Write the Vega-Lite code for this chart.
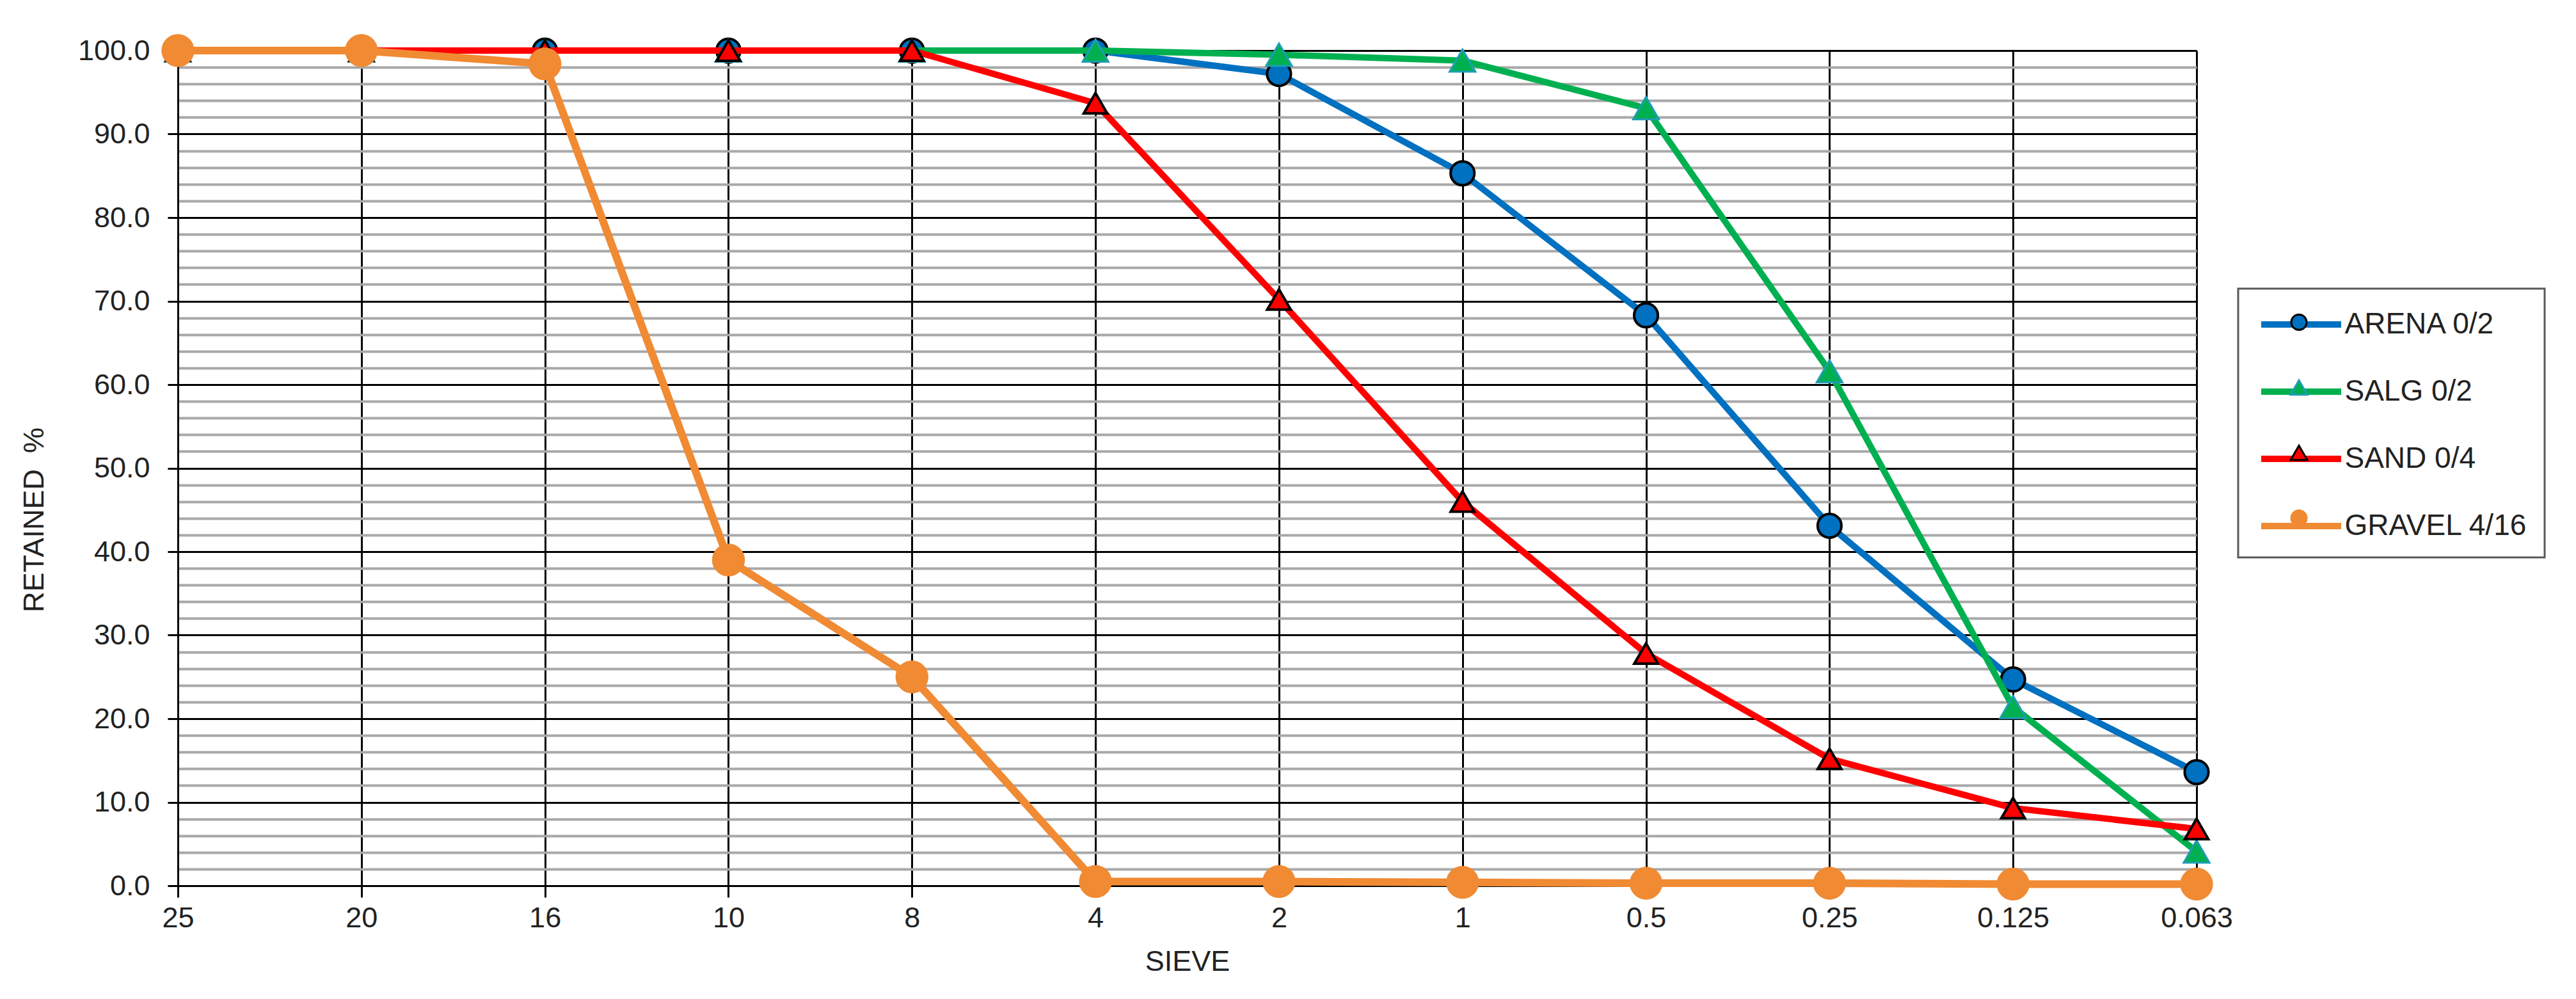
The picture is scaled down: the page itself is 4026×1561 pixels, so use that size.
{
  "$schema": "https://vega.github.io/schema/vega-lite/v6.json",
  "width": 3155,
  "height": 1305,
  "autosize": "none",
  "padding": {"left": 278, "top": 79, "right": 593, "bottom": 177},
  "background": "white",
  "config": {
    "view": {"stroke": null},
    "font": "Liberation Sans, Arial, sans-serif",
    "legend": {"strokeWidth": 3, "labelFont": "Liberation Sans, Arial, sans-serif", "labelLimit": 800}
  },
  "data": {
    "values": [
      {"series": "ARENA 0/2", "sieve": "25", "retained": 100},
      {"series": "ARENA 0/2", "sieve": "20", "retained": 100},
      {"series": "ARENA 0/2", "sieve": "16", "retained": 100},
      {"series": "ARENA 0/2", "sieve": "10", "retained": 100},
      {"series": "ARENA 0/2", "sieve": "8", "retained": 100},
      {"series": "ARENA 0/2", "sieve": "4", "retained": 100},
      {"series": "ARENA 0/2", "sieve": "2", "retained": 97.2},
      {"series": "ARENA 0/2", "sieve": "1", "retained": 85.3},
      {"series": "ARENA 0/2", "sieve": "0.5", "retained": 68.3},
      {"series": "ARENA 0/2", "sieve": "0.25", "retained": 43.1},
      {"series": "ARENA 0/2", "sieve": "0.125", "retained": 24.7},
      {"series": "ARENA 0/2", "sieve": "0.063", "retained": 13.6},
      {"series": "SALG 0/2", "sieve": "25", "retained": 100},
      {"series": "SALG 0/2", "sieve": "20", "retained": 100},
      {"series": "SALG 0/2", "sieve": "16", "retained": 100},
      {"series": "SALG 0/2", "sieve": "10", "retained": 100},
      {"series": "SALG 0/2", "sieve": "8", "retained": 100},
      {"series": "SALG 0/2", "sieve": "4", "retained": 100},
      {"series": "SALG 0/2", "sieve": "2", "retained": 99.5},
      {"series": "SALG 0/2", "sieve": "1", "retained": 98.8},
      {"series": "SALG 0/2", "sieve": "0.5", "retained": 93.1},
      {"series": "SALG 0/2", "sieve": "0.25", "retained": 61.6},
      {"series": "SALG 0/2", "sieve": "0.125", "retained": 21.4},
      {"series": "SALG 0/2", "sieve": "0.063", "retained": 4.1},
      {"series": "SAND 0/4", "sieve": "25", "retained": 100},
      {"series": "SAND 0/4", "sieve": "20", "retained": 100},
      {"series": "SAND 0/4", "sieve": "16", "retained": 100},
      {"series": "SAND 0/4", "sieve": "10", "retained": 100},
      {"series": "SAND 0/4", "sieve": "8", "retained": 100},
      {"series": "SAND 0/4", "sieve": "4", "retained": 93.7},
      {"series": "SAND 0/4", "sieve": "2", "retained": 70.2},
      {"series": "SAND 0/4", "sieve": "1", "retained": 46.0},
      {"series": "SAND 0/4", "sieve": "0.5", "retained": 27.8},
      {"series": "SAND 0/4", "sieve": "0.25", "retained": 15.2},
      {"series": "SAND 0/4", "sieve": "0.125", "retained": 9.3},
      {"series": "SAND 0/4", "sieve": "0.063", "retained": 6.8},
      {"series": "GRAVEL 4/16", "sieve": "25", "retained": 100},
      {"series": "GRAVEL 4/16", "sieve": "20", "retained": 100},
      {"series": "GRAVEL 4/16", "sieve": "16", "retained": 98.4},
      {"series": "GRAVEL 4/16", "sieve": "10", "retained": 39.0},
      {"series": "GRAVEL 4/16", "sieve": "8", "retained": 25.0},
      {"series": "GRAVEL 4/16", "sieve": "4", "retained": 0.5},
      {"series": "GRAVEL 4/16", "sieve": "2", "retained": 0.5},
      {"series": "GRAVEL 4/16", "sieve": "1", "retained": 0.4},
      {"series": "GRAVEL 4/16", "sieve": "0.5", "retained": 0.3},
      {"series": "GRAVEL 4/16", "sieve": "0.25", "retained": 0.3},
      {"series": "GRAVEL 4/16", "sieve": "0.125", "retained": 0.2},
      {"series": "GRAVEL 4/16", "sieve": "0.063", "retained": 0.2}
    ]
  },
  "encoding": {
    "x": {
      "field": "sieve", "type": "nominal", "sort": null, "title": "SIEVE",
      "scale": {"type": "point", "padding": 0, "domain": ["25", "20", "16", "10", "8", "4", "2", "1", "0.5", "0.25", "0.125", "0.063"]},
      "axis": {
        "grid": true, "gridColor": "black", "gridWidth": 3,
        "domainColor": "black", "domainWidth": 3,
        "tickColor": "black", "tickWidth": 3, "tickSize": 18,
        "labelAngle": 0, "labelFontSize": 45, "labelColor": "#222222", "labelPadding": 10, "labelOverlap": false,
        "titleFontSize": 45, "titleFontWeight": "normal", "titleColor": "#222222",
        "titleY": 132, "titleBaseline": "alphabetic"
      }
    },
    "y": {
      "field": "retained", "type": "quantitative", "title": "RETAINED\u00a0\u00a0%",
      "scale": {"domain": [0, 100], "nice": false},
      "axis": {
        "values": [0, 2, 4, 6, 8, 10, 12, 14, 16, 18, 20, 22, 24, 26, 28, 30, 32, 34, 36, 38, 40, 42, 44, 46, 48, 50, 52, 54, 56, 58, 60, 62, 64, 66, 68, 70, 72, 74, 76, 78, 80, 82, 84, 86, 88, 90, 92, 94, 96, 98, 100],
        "grid": true,
        "gridColor": {"condition": {"test": "datum.value % 10 === 0", "value": "black"}, "value": "#A8A8A8"},
        "gridWidth": {"condition": {"test": "datum.value % 10 === 0", "value": 3}, "value": 4},
        "tickColor": {"condition": {"test": "datum.value % 10 === 0", "value": "black"}, "value": "transparent"},
        "tickWidth": 3, "tickSize": 16,
        "domainColor": "black", "domainWidth": 3,
        "labelExpr": "datum.value % 10 === 0 ? format(datum.value, '.1f') : ''",
        "labelFontSize": 45, "labelColor": "#222222", "labelPadding": 28, "labelOverlap": false, "labelFlush": false,
        "titleFontSize": 45, "titleFontWeight": "normal", "titleColor": "#222222",
        "titleX": -225, "titleY": 733, "titleAlign": "center", "titleBaseline": "middle"
      }
    }
  },
  "layer": [
    {
      "transform": [{"filter": "datum.series === 'ARENA 0/2'"}],
      "layer": [
        {
          "mark": {"type": "line", "strokeWidth": 10, "strokeJoin": "round", "strokeCap": "round"},
          "encoding": {
            "color": {"field": "series", "type": "nominal",
              "scale": {"domain": ["ARENA 0/2", "SALG 0/2", "SAND 0/4", "GRAVEL 4/16"], "range": ["#0070C0", "#00B050", "#FF0000", "#F08A33"]},
              "legend": {"title": null, "orient": "none", "legendX": 3220, "legendY": 372, "symbolType": "M-2.5,0H2.5", "symbolSize": 2500, "symbolStrokeWidth": 10, "labelFontSize": 46, "labelColor": "#222222", "padding": 26, "rowPadding": 52, "symbolOffset": 42.5, "labelOffset": 38, "strokeColor": "#595959", "fillColor": "white", "zindex": 0}}
          }
        },
        {
          "mark": {"type": "point", "filled": true, "size": 6000, "strokeWidth": 4, "opacity": 1},
          "encoding": {
            "shape": {"field": "series", "type": "nominal",
              "scale": {"domain": ["ARENA 0/2", "SALG 0/2", "SAND 0/4", "GRAVEL 4/16", "_"], "range": ["M0.48,0A0.48,0.48 0 1,1 -0.48,0A0.48,0.48 0 1,1 0.48,0Z", "M0,-0.45L0.52,0.45L-0.52,0.45Z", "M0,-0.45L0.52,0.45L-0.52,0.45Z", "M0.48,0A0.48,0.48 0 1,1 -0.48,0A0.48,0.48 0 1,1 0.48,0Z", "M0.48,0A0.48,0.48 0 1,1 -0.48,0A0.48,0.48 0 1,1 0.48,0Z"]},
              "legend": {"title": null, "orient": "none", "legendX": 3220, "legendY": 372, "symbolSize": 2500, "symbolStrokeWidth": 3, "labelFontSize": 46, "labelExpr": "''", "padding": 26, "rowPadding": 52, "symbolOffset": 42.5, "labelOffset": 38, "values": ["ARENA 0/2", "SALG 0/2", "SAND 0/4", "GRAVEL 4/16"], "zindex": 1}},
            "fill": {"field": "series", "type": "nominal",
              "scale": {"domain": ["ARENA 0/2", "SALG 0/2", "SAND 0/4", "GRAVEL 4/16", "_"], "range": ["#0070C0", "#00B050", "#FF0000", "#F08A33", "white"]},
              "legend": {"title": null, "orient": "none", "legendX": 3220, "legendY": 372, "symbolSize": 2500, "symbolStrokeWidth": 3, "labelFontSize": 46, "labelExpr": "''", "padding": 26, "rowPadding": 52, "symbolOffset": 42.5, "labelOffset": 38, "values": ["ARENA 0/2", "SALG 0/2", "SAND 0/4", "GRAVEL 4/16"], "zindex": 1}},
            "stroke": {"field": "series", "type": "nominal",
              "scale": {"domain": ["ARENA 0/2", "SALG 0/2", "SAND 0/4", "GRAVEL 4/16", "_"], "range": ["#000000", "#1F9DB5", "#000000", "#F08A33", "white"]},
              "legend": {"title": null, "orient": "none", "legendX": 3220, "legendY": 372, "symbolSize": 2500, "symbolStrokeWidth": 3, "labelFontSize": 46, "labelExpr": "''", "padding": 26, "rowPadding": 52, "symbolOffset": 42.5, "labelOffset": 38, "values": ["ARENA 0/2", "SALG 0/2", "SAND 0/4", "GRAVEL 4/16"], "zindex": 1}}
          }
        }
      ]
    },
    {
      "transform": [{"filter": "datum.series === 'SALG 0/2'"}],
      "layer": [
        {
          "mark": {"type": "line", "strokeWidth": 10, "strokeJoin": "round", "strokeCap": "round"},
          "encoding": {"color": {"field": "series", "type": "nominal"}}
        },
        {
          "mark": {"type": "point", "filled": true, "size": 6000, "strokeWidth": 3, "opacity": 1},
          "encoding": {
            "shape": {"field": "series", "type": "nominal"},
            "fill": {"field": "series", "type": "nominal"},
            "stroke": {"field": "series", "type": "nominal"}
          }
        }
      ]
    },
    {
      "transform": [{"filter": "datum.series === 'SAND 0/4'"}],
      "layer": [
        {
          "mark": {"type": "line", "strokeWidth": 10, "strokeJoin": "round", "strokeCap": "round"},
          "encoding": {"color": {"field": "series", "type": "nominal"}}
        },
        {
          "mark": {"type": "point", "filled": true, "size": 5000, "strokeWidth": 4, "opacity": 1},
          "encoding": {
            "shape": {"field": "series", "type": "nominal"},
            "fill": {"field": "series", "type": "nominal"},
            "stroke": {"field": "series", "type": "nominal"}
          }
        }
      ]
    },
    {
      "transform": [{"filter": "datum.series === 'GRAVEL 4/16'"}],
      "layer": [
        {
          "mark": {"type": "line", "strokeWidth": 12, "strokeJoin": "round", "strokeCap": "round"},
          "encoding": {"color": {"field": "series", "type": "nominal"}}
        },
        {
          "mark": {"type": "point", "filled": true, "size": 11000, "strokeWidth": 1, "opacity": 1},
          "encoding": {
            "shape": {"field": "series", "type": "nominal"},
            "fill": {"field": "series", "type": "nominal"},
            "stroke": {"field": "series", "type": "nominal"}
          }
        }
      ]
    }
  ]
}
